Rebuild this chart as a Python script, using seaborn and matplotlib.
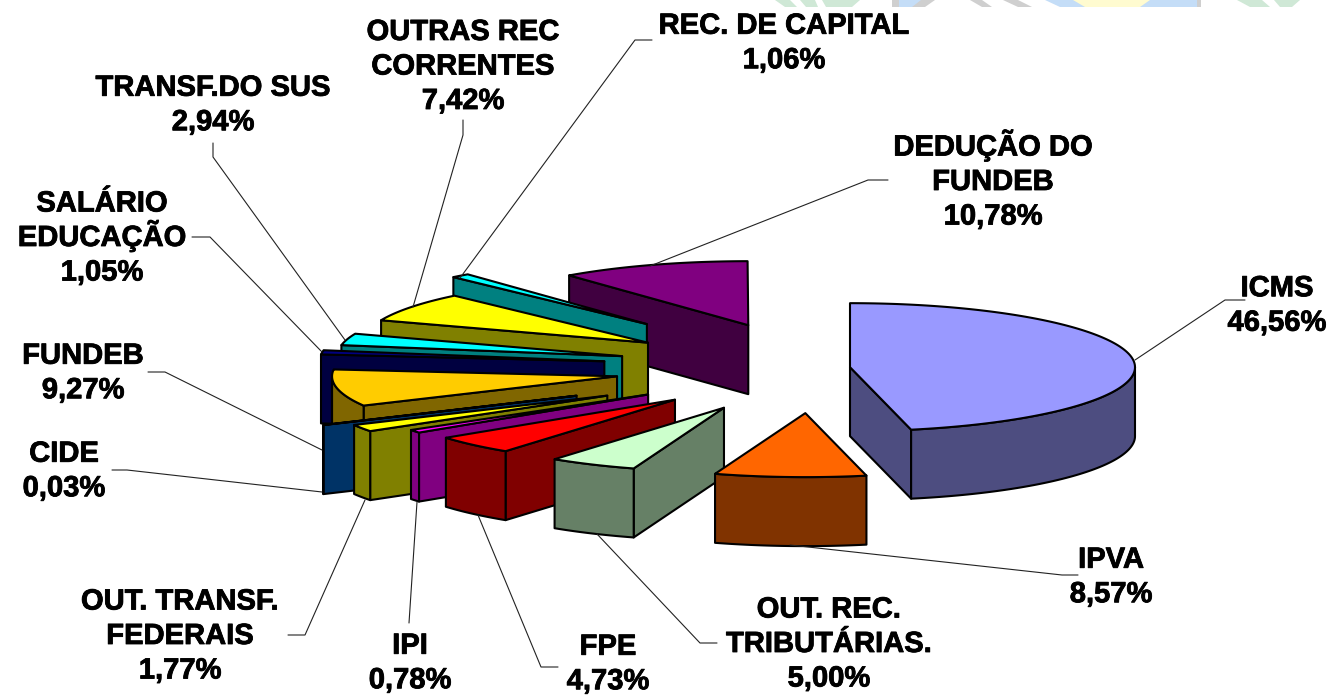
import numpy as np
import matplotlib
matplotlib.use('Agg')
import matplotlib.pyplot as plt
import matplotlib.patheffects as pe
import seaborn as sns

names = ['ICMS', 'IPVA', 'OUT. REC.\nTRIBUTÁRIAS.', 'FPE', 'IPI', 'OUT. TRANSF.\nFEDERAIS', 'CIDE',
         'FUNDEB', 'SALÁRIO\nEDUCAÇÃO', 'TRANSF.DO SUS', 'OUTRAS REC\nCORRENTES', 'REC. DE CAPITAL',
         'DEDUÇÃO DO\nFUNDEB']
values = [46.56, 8.57, 5.00, 4.73, 0.78, 1.77, 0.03, 9.27, 1.05, 2.94, 7.42, 1.06, 10.78]
explode = [0.12, 0.706, 0.70, 0.70, 0.72, 0.85, 0.945, 0.71, 0.75, 0.705, 0.71, 0.907, 0.71]
top_colors = ['#9999FF', '#FF6600', '#CCFFCC', '#FF0000', '#FF00FF', '#FFFF00', '#0066CC',
              '#FFCC00', '#000080', '#00FFFF', '#FFFF00', '#00FFFF', '#800080']
side_colors = ['#4D4D80', '#803300', '#668066', '#800000', '#800080', '#808000', '#003366',
               '#806600', '#000040', '#008080', '#808000', '#008080', '#400040']
# back to front, same order excel painted them
draw_order = [12, 11, 10, 9, 8, 7, 6, 5, 4, 3, 2, 1, 0]

# label centre and leader line for each slice, in image pixels
label_xy = [(1277, 304.5), (1111, 576), (829, 643), (608, 663), (410, 662), (180, 635), (64, 470),
            (83, 372), (102, 237), (213, 104), (463, 65.5), (784, 42), (993, 181)]
leaders = [[(1245, 300), (1225, 300), (1135, 360)],
           [(1078, 575), (1062, 575), (790, 545)],
           [(717, 643), (700, 643), (597, 534)],
           [(558, 667), (541, 667), (478, 515)],
           [(409, 623), (417, 502)],
           [(288, 635), (305, 635), (365, 500)],
           [(112, 470), (127, 470), (322, 492)],
           [(148, 372), (165, 372), (322, 450)],
           [(192, 237), (210, 237), (322, 352)],
           [(213, 143), (213, 157), (345, 340)],
           [(463, 120), (463, 135), (413, 307)],
           [(652, 40), (635, 40), (460, 278)],
           [(888, 180), (868, 180), (650, 266)]]

# scraps of the page watermark along the top edge
watermark = [('#CFE8D6', [775, 790, 797, 785]), ('#CFE8D6', [800, 815, 818, 806]),
             ('#CFE8D6', [822, 860, 852, 826]), ('#CFCFCF', [892, 935, 925, 892]),
             ('#C4DDF7', [899, 921, 912, 899]), ('#CFCFCF', [970, 982, 992, 982]),
             ('#CFCFCF', [1003, 1018, 1032, 1018]), ('#C4DDF7', [1045, 1197, 1197, 1060]),
             ('#FFFBD0', [1073, 1150, 1140, 1085]), ('#CFCFCF', [1197, 1201, 1201, 1197]),
             ('#CFE8D6', [1237, 1262, 1270, 1250]), ('#CFE8D6', [1274, 1300, 1292, 1280])]

cx, cy = 816, 368
rx, ry = 285, 64
depth = 69
line_pitch = 34.5

sns.set_theme(style='white')
plt.rcParams['font.family'] = ['Liberation Sans', 'DejaVu Sans']

fig, ax = plt.subplots(figsize=(13.34, 6.96), dpi=100)
fig.subplots_adjust(0, 0, 1, 1)
ax.set_xlim(0, 1334)
ax.set_ylim(696, 0)
ax.axis('off')

for col, xs in watermark:
    ax.fill(xs, [0, 0, 7, 7], color=col, lw=0)


def pt(theta, apex, r=1.0):
    t = np.radians(theta)
    return apex[0] + rx * r * np.sin(t), apex[1] - ry * r * np.cos(t)


def shape(xs, ys, color):
    ax.fill(xs, ys, facecolor=color, edgecolor='black', linewidth=1.5, joinstyle='round')


def draw_slice(start, sweep, expl, top, side):
    mid = start + sweep / 2
    apex = pt(mid, (cx, cy), expl)
    end = start + sweep
    arc = np.linspace(start, end, max(int(sweep * 2), 2) + 1)
    ax_, ay_ = pt(arc, apex)

    faces = []
    # radial faces, only when they turn to the viewer
    if np.sin(np.radians(start)) < -1e-6:
        x1, y1 = pt(start, apex)
        faces.append(([apex[0], x1, x1, apex[0]], [apex[1], y1, y1 + depth, apex[1] + depth]))
    if np.sin(np.radians(end)) > 1e-6:
        x1, y1 = pt(end, apex)
        faces.append(([apex[0], x1, x1, apex[0]], [apex[1], y1, y1 + depth, apex[1] + depth]))
    # rim, front half only
    lo, hi = max(start, 90), min(end, 270)
    if hi > lo:
        front = np.linspace(lo, hi, max(int((hi - lo) * 2), 2) + 1)
        fx, fy = pt(front, apex)
        faces.append((np.r_[fx, fx[::-1]], np.r_[fy, fy[::-1] + depth]))
    faces.sort(key=lambda f: np.mean(f[1]))
    for fx, fy in faces:
        shape(fx, fy, side)
    shape(np.r_[apex[0], ax_], np.r_[apex[1], ay_], top)


starts = np.r_[0, np.cumsum(values)[:-1]] * 3.6
for i in draw_order:
    draw_slice(starts[i], values[i] * 3.6, explode[i], top_colors[i], side_colors[i])

for line in leaders:
    xs, ys = zip(*line)
    ax.plot(xs, ys, color='#222222', lw=0.8)

# one text per line so accents do not push the line pitch around
heavy = [pe.withStroke(linewidth=0.6, foreground='black')]
for name, v, (x, y) in zip(names, values, label_xy):
    rows = name.split('\n') + [f'{v:.2f}'.replace('.', ',') + '%']
    base = y - (len(rows) - 1) / 2 * line_pitch + 9
    for k, row in enumerate(rows):
        ax.text(x, base + k * line_pitch, row, ha='center', va='baseline', fontsize=21,
                fontweight='bold', color='black', path_effects=heavy)

fig.savefig('out.png', dpi=100)
